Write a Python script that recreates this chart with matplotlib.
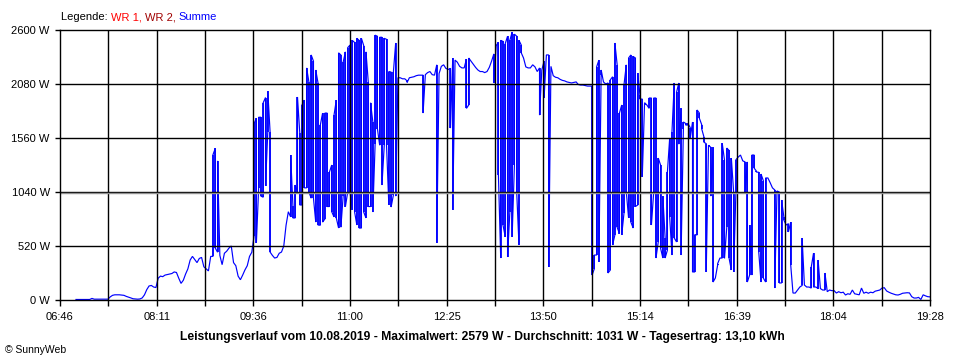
import matplotlib
matplotlib.use("Agg")
import matplotlib.pyplot as plt
import numpy as np
from matplotlib.transforms import offset_copy

# ---- data -------------------------------------------------------------
# Summe (total power) in 2-minute bins starting 07:00:
# highest and lowest reading inside each bin
start_time = "07:00"
step_minutes = 2

power_max = [
    5, 5, 5, 5, 5, 5, 5, 15, 8, 8, 8, 8, 8, 8, 8,
    30, 45, 50, 50, 50, 48, 45, 35, 28, 20, 12, 10, 8, 10, 20,
    50, 100, 135, 140, 125, 120, 210, 230, 225, 240,
    245, 250, 255, 270, 265, 210, 160, 190, 250, 300,
    385, 420, 390, 360, 400, 410, 320, 300, 280, 420,
    1400, 1460, 1340, 430, 340, 450, 470, 500, 520, 360,
    330, 230, 195, 240, 290, 330, 420, 460,
    1700, 1750, 1760, 1760, 1900, 1950, 2010, 1620,
    430, 404, 410, 450, 462, 520,
    720, 850, 1396, 910, 1107, 1955, 1610, 1880,
    1925, 2235, 2100, 2360, 2300, 2215, 2090, 1685, 1800, 1800,
    1800, 1232, 1300, 1780, 1925, 2380, 2360, 2290, 2390, 2430,
    2455, 2500, 2480, 2520, 2500, 2520, 2450, 2390, 2100, 1900,
    1714, 2550, 2540, 2530, 2530, 2520, 2510, 2200, 2195, 2195, 2475,
    2140, 2140, 2130, 2130, 2110, 2140, 2145, 2150, 2160, 2165,
    2165, 2165, 2170, 2190, 2200, 2170, 2165, 2265, 2180, 2250,
    2265, 2230, 2220, 2230, 2330, 2310, 2290, 2250, 2235, 2235,
    2320, 2330, 2300, 2270, 2240, 2215, 2200, 2200, 2190, 2200,
    2240, 2300, 2370, 2450,
    2480, 2500, 2490, 2470, 2540, 2500, 2579, 2560, 2540, 2500, 2455,
    2330, 2245, 2235, 2235, 2265, 2245, 2200, 2235, 2215, 2300,
    2360, 2360, 2250, 2160, 2145, 2140, 2125, 2115, 2110, 2100,
    2095, 2090, 2095, 2100, 2075, 2070, 2070, 2065, 2060, 2060,
    2060, 433, 2245, 2310, 2215, 2100, 2080, 2090, 2120, 2150,
    2475, 2265, 1800, 1878, 2075, 2265, 2330, 2360, 2345, 2330,
    2185, 1970, 1935, 1900, 1878, 1945, 1945, 1945, 1945, 1367,
    1300, 1000, 600, 1232, 1560, 1620, 2090, 2000, 2090, 1845,
    1714, 1700, 1700, 1660, 1714, 630, 1830, 1800, 1690, 1570,
    1505, 1490, 1470, 1470, 212, 350, 404, 1510, 1348, 1463,
    1440, 1367, 1040, 1350, 1376, 1396, 1340, 1330, 1330, 722,
    1396, 1396, 1240, 1230, 1213, 1150, 1175, 1175, 1130, 1080,
    1060, 1050, 1040, 963, 800, 722, 735, 750, 67, 67,
    96, 125, 597, 144, 125, 125, 318, 452, 125, 385,
    110, 96, 260, 80, 96, 90, 90, 67, 80, 70,
    75, 48, 60, 55, 96, 60, 55, 50, 115, 65,
    75, 65, 75, 70, 85, 90, 96, 115, 118, 87,
    75, 65, 58, 50, 48, 55, 65, 67, 70, 68,
    32, 19, 19, 25, 5, 50, 40, 32, 30,
]

power_min = [
    5, 5, 5, 5, 5, 5, 5, 15, 8, 8, 8, 8, 8, 8, 8,
    30, 45, 50, 50, 50, 48, 45, 35, 28, 20, 12, 10, 8, 10, 20,
    50, 100, 135, 140, 125, 120, 210, 230, 225, 240,
    245, 250, 255, 270, 265, 210, 160, 190, 250, 300,
    385, 420, 390, 360, 400, 410, 320, 300, 280, 420,
    420, 500, 460, 430, 340, 450, 470, 500, 520, 360,
    330, 230, 195, 240, 290, 330, 420, 460,
    620, 550, 1080, 1000, 990, 1100, 1620, 462,
    430, 404, 410, 450, 462, 520,
    720, 850, 800, 790, 790, 1040, 915, 915,
    1080, 1080, 1040, 980, 980, 750, 722, 720, 750, 780,
    900, 900, 850, 800, 790, 693, 700, 1000, 900, 1040,
    1040, 870, 850, 722, 693, 693, 847, 790, 900, 900,
    847, 1500, 1650, 1490, 1107, 1490, 1490, 915, 895, 1010, 1000,
    2140, 2140, 2130, 2130, 2095, 2140, 2145, 2150, 2160, 2165,
    2165, 1800, 2170, 2190, 2200, 2170, 2165, 550, 2180, 2250,
    2265, 2230, 2220, 1655, 870, 2310, 2290, 2250, 2235, 2235,
    1845, 1878, 2300, 2270, 2240, 2215, 2200, 2200, 2190, 2200,
    2240, 2300, 2090, 2450,
    1200, 404, 722, 607, 414, 847, 607, 1300, 1040, 530, 2380,
    2330, 2245, 2235, 2235, 2265, 2245, 2200, 1780, 2215, 1945,
    2360, 318, 2250, 2160, 2145, 2140, 2125, 2115, 2110, 2100,
    2095, 2090, 2095, 2100, 2075, 2070, 2070, 2065, 2060, 2060,
    240, 300, 433, 366, 2165, 2100, 2080, 260, 289, 530,
    626, 700, 640, 626, 840, 1040, 790, 750, 693, 900,
    915, 1935, 1185, 1878, 1878, 1845, 722, 1040, 404, 559,
    500, 404, 404, 480, 800, 433, 597, 559, 1500, 433,
    1650, 1685, 1685, 1560, 270, 270, 626, 1750, 1650, 1520,
    270, 1480, 1000, 173, 212, 337, 404, 404, 400, 700,
    404, 289, 270, 1040, 1376, 1396, 1340, 1040, 173, 240,
    240, 1270, 1232, 462, 173, 212, 173, 1175, 1130, 1080,
    115, 1040, 164, 164, 770, 722, 655, 337, 67, 67,
    96, 125, 140, 144, 125, 125, 115, 125, 125, 110,
    110, 96, 96, 80, 96, 90, 90, 67, 80, 70,
    75, 48, 60, 55, 96, 60, 55, 50, 115, 65,
    75, 65, 75, 70, 85, 90, 96, 115, 118, 87,
    75, 65, 58, 50, 48, 55, 65, 67, 70, 68,
    32, 19, 19, 25, 5, 50, 40, 32, 30,
]

x_tick_labels = ["06:46", "08:11", "09:36", "11:00", "12:25",
                 "13:50", "15:14", "16:39", "18:04", "19:28"]
y_tick_values = [0, 520, 1040, 1560, 2080, 2600]

legend_parts = [("Legende: ", "#000000"), ("WR 1, ", "#FF0000"),
                ("WR 2, ", "#A00000"), ("Summe", "#0000FF")]
title_text = ("Leistungsverlauf vom 10.08.2019 - Maximalwert: 2579 W - "
              "Durchschnitt: 1031 W - Tagesertrag: 13,10 kWh")

# ---- helpers ----------------------------------------------------------
def to_min(s):
    h, m = s.split(":")
    return int(h) * 60 + int(m)

plt.rcParams["font.family"] = ["Liberation Sans", "DejaVu Sans"]

W, H = 960, 360
fig = plt.figure(figsize=(W / 100, H / 100), dpi=100)
fig.patch.set_facecolor("white")
ax = fig.add_axes([60 / W, 60 / H, 870 / W, 270 / H])

t0 = to_min(x_tick_labels[0])
t1 = to_min(x_tick_labels[-1])
times = to_min(start_time) + step_minutes * np.arange(len(power_max))

# min/max trace: a vertical stroke per bin, joined to the next bin
px, py = [], []
last = None
for t, lo, hi in zip(times, power_min, power_max):
    if last is None or abs(last - lo) <= abs(last - hi):
        seq = (lo, hi)
    else:
        seq = (hi, lo)
    for v in seq:
        px.append(t)
        py.append(v)
    last = seq[-1]
ax.plot(px, py, color="#0000FF", lw=0.85, zorder=2, solid_joinstyle="miter")
# denser strokes where the signal flickers within a bin
ax.vlines(times, power_min, power_max, color="#0000FF", lw=1.25,
          zorder=2, capstyle="butt")

ax.set_xlim(t0, t1)
ax.set_ylim(0, 2600)

xt = np.linspace(t0, t1, 2 * (len(x_tick_labels) - 1) + 1)
labels = [x_tick_labels[k // 2] if k % 2 == 0 else "" for k in range(len(xt))]
ax.set_xticks(xt)
ax.set_xticklabels(labels)
ax.set_yticks(y_tick_values)
ax.set_yticklabels([f"{v} W" for v in y_tick_values])

for xv in xt[1:-1]:
    ax.axvline(xv, color="black", lw=1.0, zorder=3)
for yv in y_tick_values[1:-1]:
    ax.axhline(yv, color="black", lw=1.0, zorder=3)
tr = offset_copy(ax.get_yaxis_transform(), fig=fig, x=0, y=-1.2, units="dots")
ax.plot([0, 1], [1040, 1040], transform=tr, color="#909090", lw=1.0, zorder=3)

for sp in ax.spines.values():
    sp.set_color("black")
    sp.set_linewidth(1.0)
    sp.set_zorder(4)

ax.tick_params(axis="y", length=3.8, width=1, pad=3.5, labelsize=8, colors="black")
ax.tick_params(axis="x", length=4.3, width=1, pad=4.0, labelsize=8, colors="black")

x = 61
renderer = fig.canvas.get_renderer()
for txt, col in legend_parts:
    tt = fig.text(x / W, 1 - 17 / H, txt, color=col, fontsize=8, va="center", ha="left")
    x += tt.get_window_extent(renderer=renderer).width

fig.text(482 / W, 1 - 337 / H, title_text, fontsize=8.7, fontweight="bold",
         ha="center", va="center", color="black")
fig.text(5 / W, 1 - 350 / H, "\u00a9 SunnyWeb", fontsize=7.5, ha="left",
         va="center", color="black")

fig.savefig("out.png", dpi=100, facecolor="white")
